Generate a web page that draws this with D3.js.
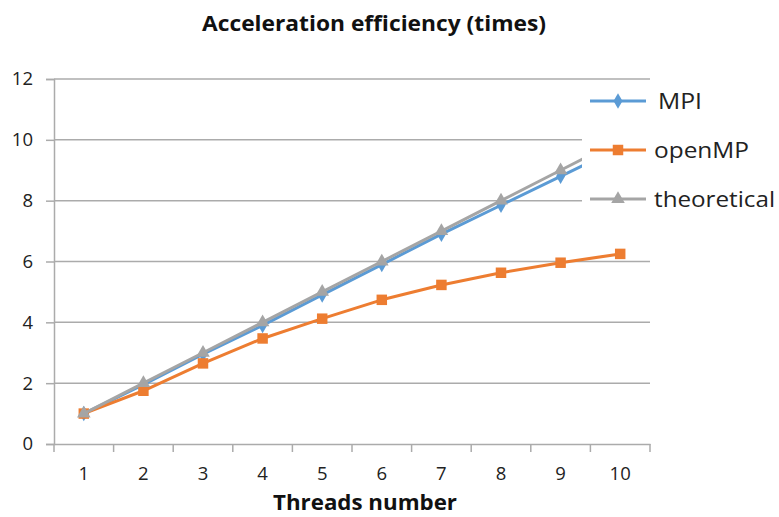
<!DOCTYPE html>
<html>
<head>
<meta charset="utf-8">
<script src="https://cdn.jsdelivr.net/npm/d3@7"></script>
<style>
  html, body { margin: 0; padding: 0; background: #fff; }
  svg { display: block; }
  text { font-family: "Open Sans", "Liberation Sans", sans-serif; }
</style>
</head>
<body>
<svg id="chart" width="779" height="517"></svg>
<script>
// Thread counts on the x axis
const threads = ["1", "2", "3", "4", "5", "6", "7", "8", "9", "10"];
// Speed-up measured for each implementation
const mpi = [1, 1.95, 2.95, 3.9, 4.9, 5.9, 6.9, 7.85, 8.8, 9.75];
const openMP = [1, 1.75, 2.65, 3.47, 4.12, 4.74, 5.23, 5.63, 5.96, 6.25];
const theoretical = [1, 2, 3, 4, 5, 6, 7, 8, 9, 10];
const yTicks = [0, 2, 4, 6, 8, 10, 12];

const series = [
  { name: "MPI", values: mpi, color: "#5B9BD5", symbol: d3.symbolDiamond, size: 70, labelWidth: 44 },
  { name: "openMP", values: openMP, color: "#ED7D31", symbol: d3.symbolSquare, size: 110, labelWidth: 95 },
  { name: "theoretical", values: theoretical, color: "#A5A5A5", symbol: d3.symbolTriangle, size: 80, labelWidth: 121 }
];

const svg = d3.select("#chart");
const plot = { left: 54, right: 650, top: 79, bottom: 444 };

const x = d3.scaleBand().domain(threads).range([plot.left, plot.right]);
const y = d3.scaleLinear().domain([0, 12]).range([plot.bottom, plot.top]);
const gridColor = "#ABABAB";

// Horizontal gridlines
svg.append("g")
  .selectAll("line")
  .data(yTicks.filter(t => t > 0))
  .join("line")
  .attr("x1", plot.left).attr("x2", plot.right)
  .attr("y1", d => y(d)).attr("y2", d => y(d))
  .attr("stroke", gridColor).attr("stroke-width", 1.5);

// Y axis
const yAxis = svg.append("g")
  .attr("transform", `translate(${plot.left},0)`)
  .call(d3.axisLeft(y).tickValues(yTicks).tickSize(8).tickPadding(13));
yAxis.select(".domain").attr("stroke", gridColor).attr("stroke-width", 1.5);
yAxis.selectAll(".tick line").attr("stroke", gridColor).attr("stroke-width", 1.5);
yAxis.selectAll(".tick text")
  .attr("font-size", 18.5).attr("fill", "#222")
  .attr("font-family", "'Open Sans', sans-serif");

// X axis: labels at band centres, ticks at band boundaries
const xAxis = svg.append("g")
  .attr("transform", `translate(0,${plot.bottom})`)
  .call(d3.axisBottom(x).tickSize(0).tickPadding(23));
xAxis.select(".domain").attr("stroke", gridColor).attr("stroke-width", 1.5);
xAxis.selectAll(".tick text")
  .attr("font-size", 18.5).attr("fill", "#222")
  .attr("font-family", "'Open Sans', sans-serif");
const boundaries = threads.map(t => x(t)).concat([x(threads[threads.length - 1]) + x.bandwidth()]);
xAxis.append("g")
  .selectAll("line")
  .data(boundaries)
  .join("line")
  .attr("x1", d => d).attr("x2", d => d)
  .attr("y1", 0).attr("y2", 8)
  .attr("stroke", gridColor).attr("stroke-width", 1.5);

// Series lines and markers
const cx = i => x(threads[i]) + x.bandwidth() / 2;
const line = d3.line().x((d, i) => cx(i)).y(d => y(d));

series.forEach(s => {
  const g = svg.append("g");
  g.append("path")
    .datum(s.values)
    .attr("d", line)
    .attr("fill", "none")
    .attr("stroke", s.color)
    .attr("stroke-width", 3)
    .attr("stroke-linejoin", "round");
  g.selectAll("path.mark")
    .data(s.values)
    .join("path")
    .attr("class", "mark")
    .attr("transform", (d, i) => `translate(${cx(i)},${y(d)})`)
    .attr("d", d3.symbol().type(s.symbol).size(s.size))
    .attr("fill", s.color);
});

// Legend panel sits over the right part of the plot
const legend = svg.append("g");
legend.append("rect")
  .attr("x", 582).attr("y", 84)
  .attr("width", 197).attr("height", 130)
  .attr("fill", "#fff");

series.forEach((s, i) => {
  const ly = 101 + i * 49;
  legend.append("line")
    .attr("x1", 590).attr("x2", 646)
    .attr("y1", ly).attr("y2", ly)
    .attr("stroke", s.color).attr("stroke-width", 3);
  legend.append("path")
    .attr("transform", `translate(618,${ly})`)
    .attr("d", d3.symbol().type(s.symbol).size(s.size))
    .attr("fill", s.color);
  legend.append("text")
    .attr("x", i === 0 ? 658 : 654)
    .attr("y", ly + 8)
    .attr("font-size", 21.5)
    .attr("textLength", s.labelWidth)
    .attr("lengthAdjust", "spacingAndGlyphs")
    .attr("fill", "#222")
    .text(s.name);
});

// Chart title
svg.append("text")
  .attr("x", 374).attr("y", 31)
  .attr("text-anchor", "middle")
  .attr("font-size", 21).attr("font-weight", "bold")
  .attr("textLength", 344)
  .attr("lengthAdjust", "spacingAndGlyphs")
  .attr("fill", "#111")
  .text("Acceleration efficiency (times)");

// X axis title
svg.append("text")
  .attr("x", 365).attr("y", 510)
  .attr("text-anchor", "middle")
  .attr("font-size", 21).attr("font-weight", "bold")
  .attr("textLength", 184)
  .attr("lengthAdjust", "spacingAndGlyphs")
  .attr("fill", "#111")
  .text("Threads number");
</script>
</body>
</html>
